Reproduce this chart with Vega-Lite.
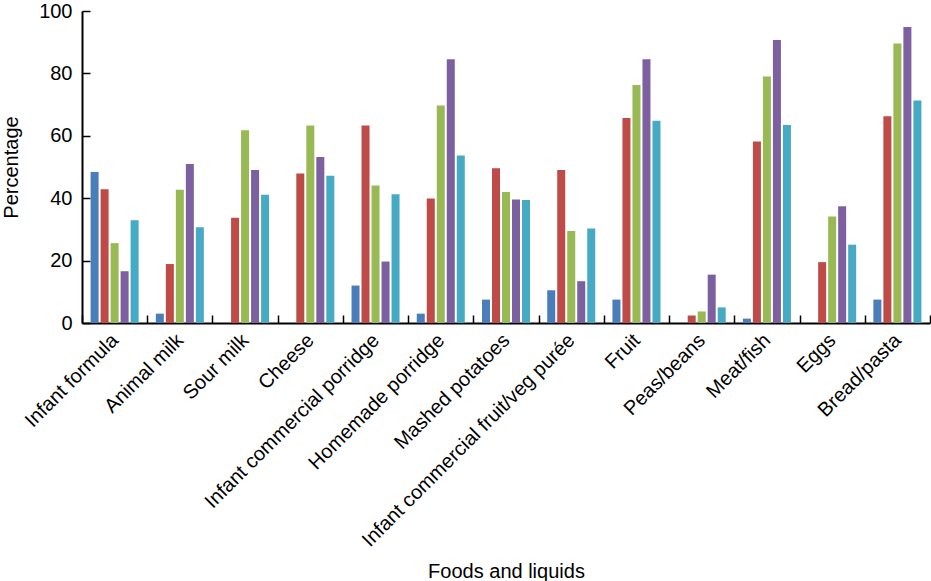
{
  "$schema": "https://vega.github.io/schema/vega-lite/v6.json",
  "autosize": {"type": "none"},
  "padding": {"left": 82, "top": 11, "right": 1, "bottom": 258},
  "width": 848,
  "height": 312,
  "background": "white",
  "config": {
    "view": {"stroke": null},
    "font": "Liberation Sans",
    "axis": {"labelFont": "Liberation Sans", "titleFont": "Liberation Sans", "labelColor": "black", "titleColor": "black", "titleFontWeight": "normal", "domainColor": "black", "tickColor": "black", "grid": false}
  },
  "data": {
    "values": [
      {"food": "Infant formula", "group": "S1", "pct": 48.4},
      {"food": "Infant formula", "group": "S2", "pct": 42.9},
      {"food": "Infant formula", "group": "S3", "pct": 25.6},
      {"food": "Infant formula", "group": "S4", "pct": 16.6},
      {"food": "Infant formula", "group": "S5", "pct": 32.9},
      {"food": "Animal milk", "group": "S1", "pct": 3.0},
      {"food": "Animal milk", "group": "S2", "pct": 18.9},
      {"food": "Animal milk", "group": "S3", "pct": 42.7},
      {"food": "Animal milk", "group": "S4", "pct": 51.0},
      {"food": "Animal milk", "group": "S5", "pct": 30.7},
      {"food": "Sour milk", "group": "S1", "pct": 0},
      {"food": "Sour milk", "group": "S2", "pct": 33.7},
      {"food": "Sour milk", "group": "S3", "pct": 61.8},
      {"food": "Sour milk", "group": "S4", "pct": 49.0},
      {"food": "Sour milk", "group": "S5", "pct": 41.1},
      {"food": "Cheese", "group": "S1", "pct": 0},
      {"food": "Cheese", "group": "S2", "pct": 47.9},
      {"food": "Cheese", "group": "S3", "pct": 63.3},
      {"food": "Cheese", "group": "S4", "pct": 53.2},
      {"food": "Cheese", "group": "S5", "pct": 47.2},
      {"food": "Infant commercial porridge", "group": "S1", "pct": 12.0},
      {"food": "Infant commercial porridge", "group": "S2", "pct": 63.3},
      {"food": "Infant commercial porridge", "group": "S3", "pct": 44.1},
      {"food": "Infant commercial porridge", "group": "S4", "pct": 19.7},
      {"food": "Infant commercial porridge", "group": "S5", "pct": 41.3},
      {"food": "Homemade porridge", "group": "S1", "pct": 3.0},
      {"food": "Homemade porridge", "group": "S2", "pct": 39.9},
      {"food": "Homemade porridge", "group": "S3", "pct": 69.7},
      {"food": "Homemade porridge", "group": "S4", "pct": 84.5},
      {"food": "Homemade porridge", "group": "S5", "pct": 53.7},
      {"food": "Mashed potatoes", "group": "S1", "pct": 7.5},
      {"food": "Mashed potatoes", "group": "S2", "pct": 49.6},
      {"food": "Mashed potatoes", "group": "S3", "pct": 42.0},
      {"food": "Mashed potatoes", "group": "S4", "pct": 39.6},
      {"food": "Mashed potatoes", "group": "S5", "pct": 39.4},
      {"food": "Infant commercial fruit/veg purée", "group": "S1", "pct": 10.5},
      {"food": "Infant commercial fruit/veg purée", "group": "S2", "pct": 49.0},
      {"food": "Infant commercial fruit/veg purée", "group": "S3", "pct": 29.5},
      {"food": "Infant commercial fruit/veg purée", "group": "S4", "pct": 13.4},
      {"food": "Infant commercial fruit/veg purée", "group": "S5", "pct": 30.3},
      {"food": "Fruit", "group": "S1", "pct": 7.5},
      {"food": "Fruit", "group": "S2", "pct": 65.7},
      {"food": "Fruit", "group": "S3", "pct": 76.3},
      {"food": "Fruit", "group": "S4", "pct": 84.5},
      {"food": "Fruit", "group": "S5", "pct": 64.8},
      {"food": "Peas/beans", "group": "S1", "pct": 0},
      {"food": "Peas/beans", "group": "S2", "pct": 2.4},
      {"food": "Peas/beans", "group": "S3", "pct": 3.7},
      {"food": "Peas/beans", "group": "S4", "pct": 15.5},
      {"food": "Peas/beans", "group": "S5", "pct": 5.0},
      {"food": "Meat/fish", "group": "S1", "pct": 1.4},
      {"food": "Meat/fish", "group": "S2", "pct": 58.2},
      {"food": "Meat/fish", "group": "S3", "pct": 79.0},
      {"food": "Meat/fish", "group": "S4", "pct": 90.7},
      {"food": "Meat/fish", "group": "S5", "pct": 63.5},
      {"food": "Eggs", "group": "S1", "pct": 0},
      {"food": "Eggs", "group": "S2", "pct": 19.5},
      {"food": "Eggs", "group": "S3", "pct": 34.1},
      {"food": "Eggs", "group": "S4", "pct": 37.4},
      {"food": "Eggs", "group": "S5", "pct": 25.1},
      {"food": "Bread/pasta", "group": "S1", "pct": 7.5},
      {"food": "Bread/pasta", "group": "S2", "pct": 66.3},
      {"food": "Bread/pasta", "group": "S3", "pct": 89.6},
      {"food": "Bread/pasta", "group": "S4", "pct": 94.9},
      {"food": "Bread/pasta", "group": "S5", "pct": 71.3}
    ]
  },
  "mark": {"type": "bar"},
  "encoding": {
    "x": {
      "field": "food", "type": "nominal", "sort": null,
      "scale": {"paddingInner": 0, "paddingOuter": 0},
      "axis": {
        "title": "Foods and liquids", "titleFontSize": 20, "titleY": 254, "titleBaseline": "alphabetic",
        "labelAngle": -45, "labelFontSize": 20, "labelAlign": "right", "labelBaseline": "middle",
        "labelPadding": 22, "labelLimit": 400,
        "tickBand": "extent", "tickSize": -8, "tickWidth": 1.5, "domainWidth": 2
      }
    },
    "xOffset": {"field": "group", "type": "nominal", "scale": {"paddingInner": 0.2, "paddingOuter": 0.86}},
    "y": {
      "field": "pct", "type": "quantitative",
      "scale": {"domain": [0, 100], "nice": false},
      "axis": {
        "title": "Percentage", "titleFontSize": 20, "titleX": -65, "titleY": 156, "titleAngle": -90, "titleBaseline": "alphabetic", "titleAlign": "center",
        "values": [0, 20, 40, 60, 80, 100], "labelFontSize": 20, "labelPadding": 18,
        "tickSize": -8, "tickWidth": 1.5, "domainWidth": 2
      }
    },
    "color": {
      "field": "group", "type": "nominal", "legend": null,
      "scale": {"domain": ["S1", "S2", "S3", "S4", "S5"], "range": ["#4a7ebb", "#be4b48", "#98b954", "#7d60a0", "#46aac5"]}
    }
  }
}
